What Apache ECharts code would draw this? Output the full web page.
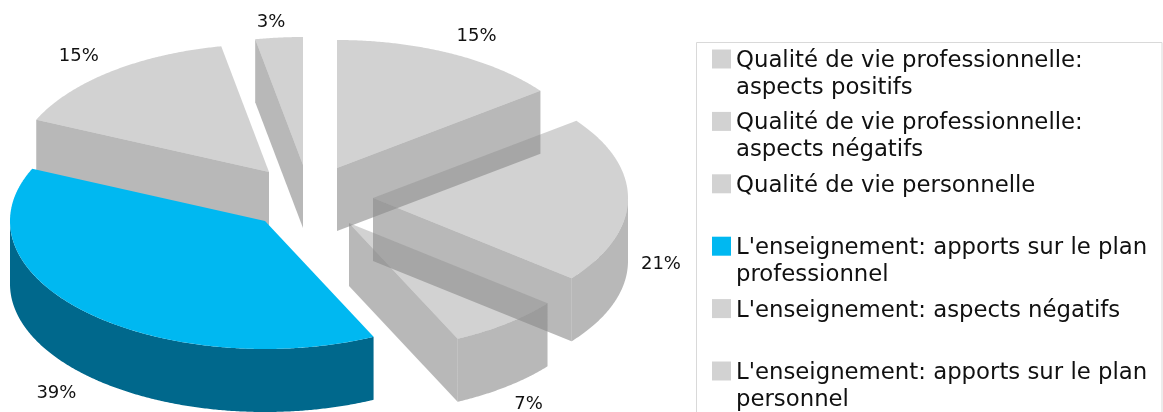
<!DOCTYPE html>
<html>
<head>
<meta charset="utf-8">
<style>html,body{margin:0;padding:0;background:#fff}#c{width:1163px;height:412px}</style>
<script src="https://cdn.jsdelivr.net/npm/echarts@6/dist/echarts.min.js"></script>
</head>
<body>
<div id="c"></div>
<script>
// Data
const categories = [
  "Qualité de vie professionnelle:\naspects positifs",
  "Qualité de vie professionnelle:\naspects négatifs",
  "Qualité de vie personnelle",
  "L'enseignement: apports sur le plan\nprofessionnel",
  "L'enseignement: aspects négatifs",
  "L'enseignement: apports sur le plan\npersonnel"
];
const sharePercent = [14.7, 21.1, 7.2, 38.7, 15.3, 3.0];

// Style
const legendColors = ['#d2d2d2', '#d2d2d2', '#d2d2d2', '#00b8f1', '#d2d2d2', '#d2d2d2'];
const topFills = ['rgba(137,137,137,0.38)', 'rgba(137,137,137,0.38)', 'rgba(137,137,137,0.38)', '#00b8f1', 'rgba(137,137,137,0.38)', 'rgba(137,137,137,0.38)'];
const sideFills = ['rgba(137,137,137,0.6)', 'rgba(137,137,137,0.6)', 'rgba(137,137,137,0.6)', '#00688c', 'rgba(137,137,137,0.6)', 'rgba(137,137,137,0.6)'];
const layerOrder = [1, 2, 3, 6, 4, 5];

// Layout of the exploded 3D pie
const center = [320, 200];
const radiusX = 255, radiusY = 128, depth = 63;
const explode = [[17, -32], [53, -2], [29, 23], [-55, 21], [-51, -28], [-17, -35]];
const labelShift = [[26, -17], [33, 64], [22, 81], [-30, 81], [-32, -15], [-8, -15]];

const total = sharePercent.reduce((a, b) => a + b, 0);
const cumulative = sharePercent.reduce((acc, v) => { acc.push(acc[acc.length - 1] + v); return acc; }, [0]);
const rad = d => d * Math.PI / 180;

function renderSlice(params, api) {
  const i = params.seriesIndex;
  const value = api.value(0);
  const a0 = cumulative[i] / total * 360;
  const a1 = a0 + value / total * 360;
  const ox = center[0] + explode[i][0], oy = center[1] + explode[i][1];
  const rim = t => [ox + radiusX * Math.sin(rad(t)), oy - radiusY * Math.cos(rad(t))];
  const down = p => [p[0], p[1] + depth];
  const arc = (s, e) => {
    const pts = [], n = Math.max(2, Math.ceil((e - s) / 0.4));
    for (let k = 0; k <= n; k++) pts.push(rim(s + (e - s) * k / n));
    return pts;
  };
  const poly = (points, fill) => ({ type: 'polygon', shape: { points }, style: { fill } });
  const children = [];
  const side = sideFills[i];
  // Radial walls that face the viewer
  if (a0 > 180 && a0 < 360) {
    const e = rim(a0);
    children.push(poly([[ox, oy], e, down(e), [ox, oy + depth]], side));
  }
  if (a1 > 0 && a1 < 180) {
    const e = rim(a1);
    children.push(poly([[ox, oy], e, down(e), [ox, oy + depth]], side));
  }
  // Outer curved wall
  const s = Math.max(a0, 90), e = Math.min(a1, 270);
  if (e > s) {
    const top = arc(s, e);
    children.push(poly(top.concat(top.map(down).reverse()), side));
  }
  // Top face
  children.push(poly([[ox, oy]].concat(arc(a0, a1)), topFills[i]));
  // Percentage label
  const mid = rim((a0 + a1) / 2);
  children.push({
    type: 'text',
    style: {
      x: mid[0] + labelShift[i][0], y: mid[1] + labelShift[i][1],
      text: Math.round(value) + '%', align: 'center', verticalAlign: 'middle',
      fontFamily: 'DejaVu Sans', fontSize: 18, fill: '#111'
    }
  });
  return { type: 'group', children };
}

const legendFont = { fontFamily: 'DejaVu Sans', fontSize: 22.8, lineHeight: 27, color: '#111' };
const chart = echarts.init(document.getElementById('c'), null, { renderer: 'canvas' });
chart.setOption({
  animation: false,
  backgroundColor: '#fff',
  graphic: [{
    type: 'rect', silent: true, z: 0,
    shape: { x: 696.5, y: 42.5, width: 465.5, height: 400 },
    style: { fill: '#fff', stroke: '#d9d9d9', lineWidth: 1 }
  }],
  legend: {
    orient: 'vertical',
    left: 712, top: 16.5, height: 800, padding: 0,
    itemWidth: 19, itemHeight: 19, itemGap: -22.6,
    selectedMode: false,
    icon: 'rect',
    data: categories.map(name => ({ name, icon: 'rect' })),
    formatter: name => {
      const lines = name.split('\n');
      const body = lines.map(l => '{t|' + l + '}');
      if (body.length < 2) body.push('{t| }');
      return '{gap| }\n' + body.join('\n');
    },
    textStyle: Object.assign({}, legendFont, {
      rich: { gap: { fontSize: 10, lineHeight: 31 }, t: legendFont }
    })
  },
  series: categories.map((name, i) => ({
    type: 'custom',
    name,
    coordinateSystem: 'none',
    silent: true,
    z: layerOrder[i] + 2,
    itemStyle: { color: legendColors[i] },
    data: [[sharePercent[i]]],
    renderItem: renderSlice
  }))
});
</script>
</body>
</html>
